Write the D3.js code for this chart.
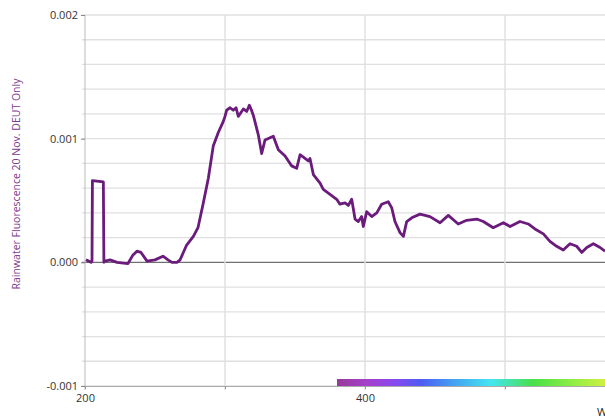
<!DOCTYPE html>
<html>
<head>
<meta charset="utf-8">
<script src="https://cdn.jsdelivr.net/npm/d3@7"></script>
<style>
  body { margin: 0; background: #fff; overflow: hidden; }
  svg text { font-family: "Open Sans", "Liberation Sans", sans-serif; }
</style>
</head>
<body>
<div id="chart"></div>
<script>
// datos
const wavelength = [200.7, 204.3, 205.0, 205.3, 213.1, 213.5, 214.3, 217.9, 222.9, 230.7, 234.3, 237.1, 240.0, 244.3, 250.0,
  255.7, 259.3, 262.1, 265.7, 267.9, 272.6, 277.4, 280.7, 284.5, 288.1, 291.6, 295.2, 298.8, 300.0, 301.2, 303.6, 305.9,
  307.9, 309.5, 311.3, 313.1, 315.5, 317.4, 318.6, 320.2, 323.8, 326.2, 328.6, 334.5, 338.1, 342.9, 347.6, 351.2, 353.6, 359.5, 360.7,
  363.1, 367.9, 370.2, 375.0, 379.8, 382.1, 385.7, 388.1, 390.5, 392.9, 395.2, 397.6, 398.8, 401.2, 404.8,
  408.4, 411.9, 416.6, 419.1, 421.4, 425.0, 427.4, 429.8, 433.4, 439.3, 446.4, 453.6, 459.5, 466.6, 472.6,
  479.8, 484.5, 491.6, 498.8, 503.6, 510.7, 516.6, 521.4, 527.4, 532.1, 536.9, 541.6, 546.4, 551.2, 554.8,
  558.4, 563.1, 567.9, 571.4];
const fluorescence = [0.00002, 0.0, 0.00001, 0.00066, 0.00065, 0.0, 0.00001, 0.00002, 0.0, -0.00001, 0.00006, 0.00009, 0.00008, 0.00001, 0.00002,
  0.00005, 0.00002, 0.0, 0.0, 0.00002, 0.00014, 0.00021, 0.00028, 0.00048, 0.00068, 0.00094, 0.00105, 0.00114, 0.00118, 0.00123, 0.00125, 0.00123,
  0.00125, 0.00118, 0.00121, 0.00124, 0.00122, 0.00127, 0.00124, 0.00119, 0.00103, 0.00088, 0.00099, 0.00102, 0.00091, 0.00086, 0.00078, 0.00076, 0.00087, 0.00082, 0.00084,
  0.00071, 0.00064, 0.00059, 0.00055, 0.00051, 0.00047, 0.00048, 0.00046, 0.00051, 0.00035, 0.00033, 0.00037, 0.00029, 0.00041, 0.00037,
  0.0004, 0.00047, 0.00049, 0.00044, 0.00033, 0.00024, 0.00021, 0.00033, 0.00036, 0.00039, 0.00037, 0.00032, 0.00038, 0.00031, 0.00034,
  0.00035, 0.00033, 0.00028, 0.00032, 0.00029, 0.00033, 0.00031, 0.00027, 0.00023, 0.00017, 0.00013, 0.0001, 0.00015, 0.00013, 0.00008,
  0.00012, 0.00015, 0.00012, 0.00009];

const xTicks = [200, 300, 400, 500, 600];
const xTickLabels = ["200", "", "400", "", ""];
const yTicks = [-0.001, 0.000, 0.001, 0.002];
const yTickLabels = ["-0.001", "0.000", "0.001", "0.002"];

// colores del espectro visible
const spectrumNm = [380, 400, 420, 440, 465, 490, 505, 520, 550, 580, 620, 700];
const spectrumColor = ["#953b98", "#a540c8", "#8a48ee", "#4d5cf2", "#42a6f2", "#44e6f0", "#46e2a0", "#48e048", "#94ee44", "#e6f040", "#f0a040", "#e04040"];

const width = 605, height = 419;

const svg = d3.select("#chart").append("svg")
    .attr("width", width)
    .attr("height", height);

const x = d3.scaleLinear().domain([200, 600]).range([85, 645]);
const y = d3.scaleLinear().domain([-0.001, 0.002]).range([386, 15]);

// lineas de la cuadricula horizontales
const minorY = d3.range(-10, 21, 2).map(d => d / 10000);
svg.append("g").selectAll("line")
    .data(minorY)
    .enter().append("line")
    .attr("x1", 82).attr("x2", width)
    .attr("y1", d => y(d)).attr("y2", d => y(d))
    .attr("stroke", d => Math.abs(d) < 1e-9 ? "#707070" : "#e0e0e0")
    .attr("stroke-width", d => Math.abs(d) < 1e-9 ? 1.2 : 1.3);

// lineas verticales
svg.append("g").selectAll("line")
    .data(xTicks.slice(1))
    .enter().append("line")
    .attr("x1", d => x(d)).attr("x2", d => x(d))
    .attr("y1", 15).attr("y2", 390)
    .attr("stroke", "#e0e0e0")
    .attr("stroke-width", 1.5);

// barra del espectro
const grad = svg.append("defs").append("linearGradient")
    .attr("id", "spectrum")
    .attr("gradientUnits", "userSpaceOnUse")
    .attr("x1", x(380)).attr("x2", x(700))
    .attr("y1", 0).attr("y2", 0);
grad.selectAll("stop")
    .data(spectrumNm)
    .enter().append("stop")
    .attr("offset", d => (d - 380) / (700 - 380))
    .attr("stop-color", (d, i) => spectrumColor[i]);

svg.append("rect")
    .attr("x", x(380))
    .attr("y", 379)
    .attr("width", x(700) - x(380))
    .attr("height", 7.5)
    .attr("fill", "url(#spectrum)");

// ejes
const yAxis = d3.axisLeft(y)
    .tickValues(yTicks)
    .tickFormat((d, i) => yTickLabels[i])
    .tickSize(4)
    .tickPadding(3);
const gy = svg.append("g")
    .attr("transform", "translate(85,0)")
    .call(yAxis);
gy.select(".domain").attr("stroke", "#bbb").attr("d", "M0,15V390");
gy.selectAll(".tick line").attr("stroke", "#888");
gy.selectAll(".tick text").attr("fill", "#333").attr("font-size", "11px");

const xAxis = d3.axisBottom(x)
    .tickValues(xTicks)
    .tickFormat((d, i) => xTickLabels[i])
    .tickSize(3)
    .tickPadding(5);
const gx = svg.append("g")
    .attr("transform", "translate(0,386)")
    .call(xAxis);
gx.select(".domain").attr("stroke", "#aaa");
gx.selectAll(".tick line").attr("stroke", "#999");
gx.selectAll(".tick text").attr("fill", "#333").attr("font-size", "11px");

// la curva
const points = wavelength.map((w, i) => ({ w: w, v: fluorescence[i] }));
const line = d3.line()
    .x(d => x(d.w))
    .y(d => y(d.v));

svg.append("path")
    .datum(points)
    .attr("d", line)
    .attr("fill", "none")
    .attr("stroke", "#6a1b7b")
    .attr("stroke-width", 2.8)
    .attr("stroke-linejoin", "round");

// titulos de los ejes
svg.append("text")
    .attr("transform", "translate(20,184) rotate(-90)")
    .attr("text-anchor", "middle")
    .attr("fill", "#7b3a8c")
    .attr("font-size", "10.5px")
    .text("Rainwater Fluorescence 20 Nov. DEUT Only");

svg.append("text")
    .attr("x", 597)
    .attr("y", 416)
    .attr("fill", "#222")
    .attr("font-size", "11px")
    .text("Wavelength (nm)");
</script>
</body>
</html>
